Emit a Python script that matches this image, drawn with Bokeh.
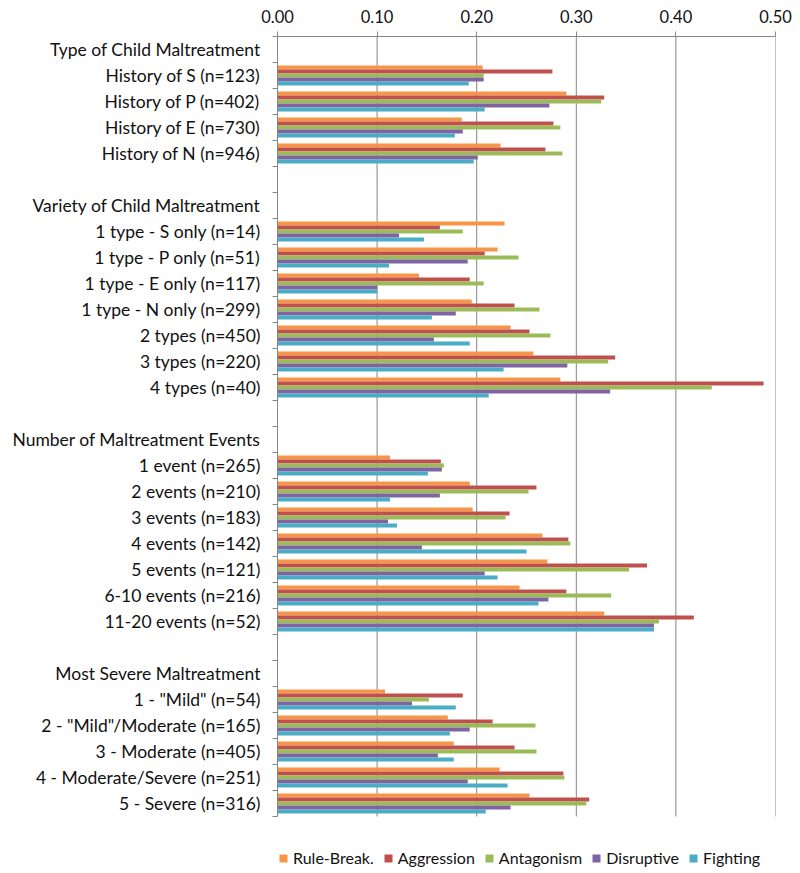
from bokeh.plotting import figure
from bokeh.models import (Range1d, LinearAxis, FixedTicker, Legend, LegendItem,
                          ColumnDataSource, NumeralTickFormatter)
from bokeh.transform import dodge
from bokeh.embed import file_html
from bokeh.resources import INLINE

# ---------------- data ----------------
series_names = ["Rule-Break.", "Aggression", "Antagonism", "Disruptive", "Fighting"]
series_colors = ["#F79646", "#C0504D", "#9BBB59", "#8064A2", "#4BACC6"]

header_type = "Type of Child Maltreatment"
type_labels = ["History of S (n=123)", "History of P (n=402)", "History of E (n=730)", "History of N (n=946)"]
type_rule = [0.206, 0.290, 0.185, 0.224]
type_aggr = [0.276, 0.328, 0.277, 0.269]
type_anta = [0.207, 0.325, 0.284, 0.286]
type_disr = [0.207, 0.273, 0.186, 0.201]
type_figh = [0.192, 0.208, 0.178, 0.197]

header_variety = "Variety of Child Maltreatment"
variety_labels = ["1 type - S only (n=14)", "1 type - P only (n=51)", "1 type - E only (n=117)",
                  "1 type - N only (n=299)", "2 types (n=450)", "3 types (n=220)", "4 types (n=40)"]
variety_rule = [0.228, 0.221, 0.142, 0.195, 0.234, 0.257, 0.284]
variety_aggr = [0.163, 0.208, 0.193, 0.238, 0.253, 0.339, 0.488]
variety_anta = [0.186, 0.242, 0.207, 0.263, 0.274, 0.332, 0.436]
variety_disr = [0.122, 0.191, 0.100, 0.179, 0.157, 0.291, 0.334]
variety_figh = [0.147, 0.112, 0.100, 0.155, 0.193, 0.227, 0.212]

header_events = "Number of Maltreatment Events"
events_labels = ["1 event (n=265)", "2 events (n=210)", "3 events (n=183)", "4 events (n=142)",
                 "5 events (n=121)", "6-10 events (n=216)", "11-20 events (n=52)"]
events_rule = [0.113, 0.193, 0.196, 0.266, 0.271, 0.243, 0.328]
events_aggr = [0.164, 0.260, 0.233, 0.292, 0.371, 0.290, 0.418]
events_anta = [0.167, 0.252, 0.229, 0.294, 0.353, 0.335, 0.383]
events_disr = [0.165, 0.163, 0.111, 0.145, 0.208, 0.272, 0.378]
events_figh = [0.151, 0.113, 0.120, 0.250, 0.221, 0.262, 0.378]

header_severity = "Most Severe Maltreatment"
severity_labels = ['1 - "Mild" (n=54)', '2 - "Mild"/Moderate (n=165)', "3 - Moderate (n=405)",
                   "4 - Moderate/Severe (n=251)", "5 - Severe (n=316)"]
severity_rule = [0.108, 0.171, 0.177, 0.223, 0.253]
severity_aggr = [0.186, 0.216, 0.238, 0.287, 0.313]
severity_anta = [0.152, 0.259, 0.260, 0.288, 0.310]
severity_disr = [0.135, 0.193, 0.161, 0.191, 0.234]
severity_figh = [0.179, 0.173, 0.177, 0.231, 0.209]

x_ticks = [0.0, 0.1, 0.2, 0.3, 0.4, 0.5]

# ---------------- build ----------------
rows = ([header_type] + type_labels + [""] +
        [header_variety] + variety_labels + [""] +
        [header_events] + events_labels + [""] +
        [header_severity] + severity_labels)
n = len(rows)
row_center = {}
label_overrides = {}
for idx, lab in enumerate(rows):
    c = n - idx - 0.5
    if lab:
        row_center[lab] = c
        label_overrides[c] = lab

cats = type_labels + variety_labels + events_labels + severity_labels
cols = {
    "cat": cats,
    "y": [row_center[c] for c in cats],
    "s0": type_rule + variety_rule + events_rule + severity_rule,
    "s1": type_aggr + variety_aggr + events_aggr + severity_aggr,
    "s2": type_anta + variety_anta + events_anta + severity_anta,
    "s3": type_disr + variety_disr + events_disr + severity_disr,
    "s4": type_figh + variety_figh + events_figh + severity_figh,
}
source = ColumnDataSource(cols)

GRAY = "#868686"
TEXT = "#111111"
FONT = "Lato"

ROW_PX = 26
LEGEND_PX = 55                     # band under the bars that holds the legend
ext = LEGEND_PX / ROW_PX

p = figure(y_range=Range1d(-ext, n), x_range=Range1d(0, 0.5),
           x_axis_location="above", y_axis_location=None,
           frame_width=498, frame_height=ROW_PX * n + LEGEND_PX,
           min_border_left=277, min_border_right=23, min_border_top=36, min_border_bottom=0,
           output_backend="svg", toolbar_location=None)
p.outline_line_color = None
p.background_fill_color = "white"

ticker = FixedTicker(ticks=x_ticks)
p.xaxis.ticker = ticker
p.xaxis.formatter = NumeralTickFormatter(format="0.00")
p.xaxis.major_label_text_font = FONT
p.xaxis.major_label_text_font_size = "16.5px"
p.xaxis.major_label_text_color = TEXT
p.xaxis.major_label_standoff = 9
p.xaxis.major_tick_out = 5
p.xaxis.major_tick_in = 0
p.xaxis.minor_tick_line_color = None
p.xaxis.axis_line_color = GRAY
p.xaxis.major_tick_line_color = GRAY

for g in p.xgrid:
    g.visible = False
for g in p.ygrid:
    g.visible = False

# vertical gridlines only across the bar area
p.segment(x0=x_ticks, y0=[0] * len(x_ticks), x1=x_ticks, y1=[n] * len(x_ticks),
          line_color=GRAY, line_width=1)

# left: tick marks at category boundaries (inner) + category labels (outer)
tick_axis = LinearAxis(ticker=FixedTicker(ticks=list(range(n + 1))), bounds=(0, n),
                       major_label_text_font_size="0px", major_label_text_color=None,
                       major_label_standoff=0, major_tick_out=5, major_tick_in=0,
                       minor_tick_line_color=None, axis_line_color=GRAY,
                       major_tick_line_color=GRAY)
p.add_layout(tick_axis, "left")
label_axis = LinearAxis(ticker=FixedTicker(ticks=sorted(label_overrides.keys())),
                        major_label_overrides=label_overrides,
                        major_tick_line_color=None, axis_line_color=None,
                        minor_tick_line_color=None,
                        major_tick_out=0, major_tick_in=0,
                        major_label_text_font=FONT, major_label_text_font_size="17.5px",
                        major_label_text_color=TEXT, major_label_standoff=12)
p.add_layout(label_axis, "left")

bar_h = 0.154
offsets = [2 * bar_h, bar_h, 0.0, -bar_h, -2 * bar_h]
items = []
for i, (name, color) in enumerate(zip(series_names, series_colors)):
    r = p.hbar(y=dodge("y", offsets[i]), right=f"s{i}", left=0,
               height=bar_h, source=source, fill_color=color, line_color=None)
    items.append(LegendItem(label=name, renderers=[r]))

legend = Legend(items=items, orientation="horizontal", location=(1, 4),
                glyph_width=10, glyph_height=10, label_standoff=5, spacing=9,
                padding=0, margin=0, label_height=18, label_width=10,
                label_text_font=FONT, label_text_font_size="16px", label_text_color=TEXT,
                border_line_color=None, background_fill_alpha=0)
p.add_layout(legend, "center")

open("out.html", "w").write(file_html(p, INLINE))
